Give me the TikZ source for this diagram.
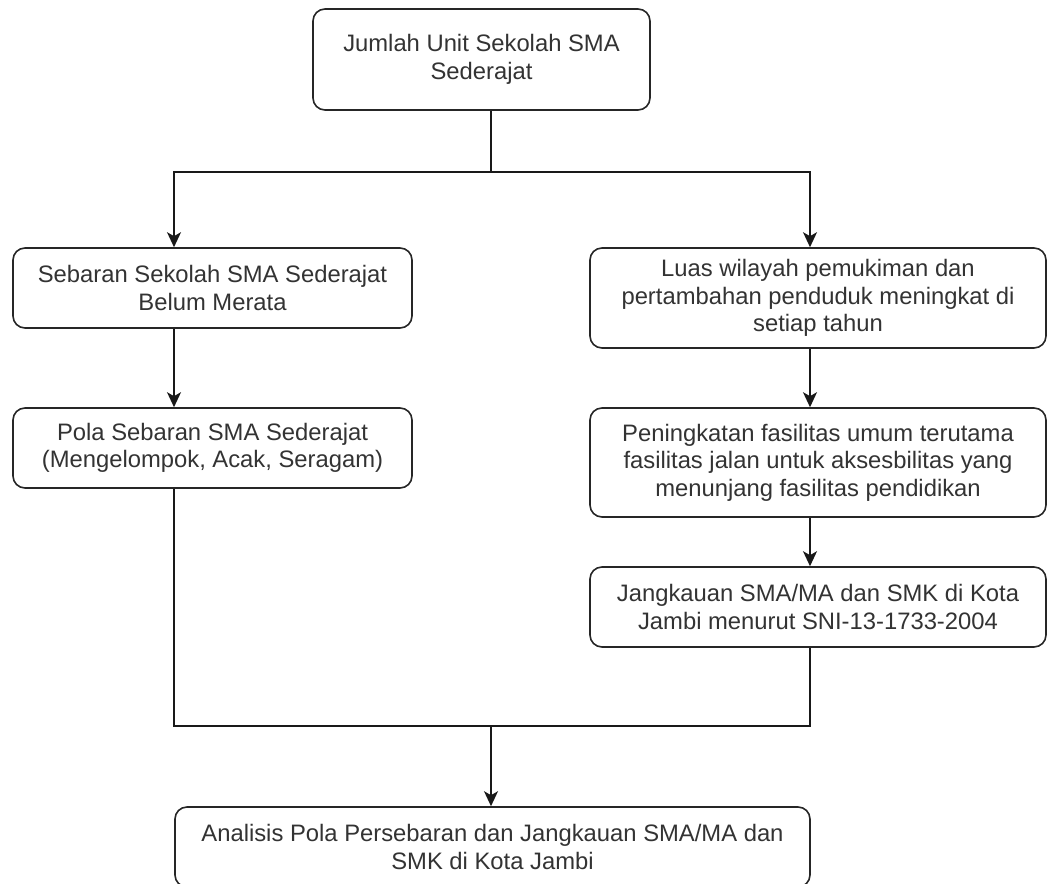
\documentclass[tikz,border=0pt]{standalone}
\usepackage{fontspec}
\setmainfont{Liberation Sans}
\usetikzlibrary{arrows.meta,calc}
\tikzset{
	box/.style={
			draw=black!85, line width=0.8pt, rounded corners=6pt, fill=white,
			align=center, inner sep=0pt, text=black!80,
			font=\fontsize{11.9}{13.8}\selectfont
		},
	link/.style={draw=black!90, line width=0.8pt, -{Stealth[length=7.5pt,width=7pt,inset=2pt]}},
	plain/.style={draw=black!90, line width=0.8pt}
}

\begin{document}
\begin{tikzpicture}[x=0.5pt, y=-0.5pt]
	\useasboundingbox (0,0) rectangle (1048,883);
	\node[box, minimum width=168.5pt, minimum height=50.5pt] (jml) at (481.5,59.5) {Jumlah Unit Sekolah SMA\\Sederajat};
	\node[box, minimum width=199.5pt, minimum height=40pt] (sebaran) at (212.5,288) {Sebaran Sekolah SMA Sederajat\\Belum Merata};
	\node[box, minimum width=199.5pt, minimum height=40pt] (pola) at (212.5,448) {Pola Sebaran SMA Sederajat\\(Mengelompok, Acak, Seragam)};
	\node[box, minimum width=228pt, minimum height=50pt] (luas) at (818,298) {Luas wilayah pemukiman dan\\pertambahan penduduk meningkat di\\setiap tahun};
	\node[box, minimum width=228pt, minimum height=54.5pt] (tingkat) at (818,462.5) {Peningkatan fasilitas umum terutama\\fasilitas jalan untuk aksesbilitas yang\\menunjang fasilitas pendidikan};
	\node[box, minimum width=228pt, minimum height=40pt] (jangkau) at (818,607) {Jangkauan SMA/MA dan SMK di Kota\\Jambi menurut SNI-13-1733-2004};
	\node[box, minimum width=317.5pt, minimum height=40pt] (analisis) at (492.5,847) {Analisis Pola Persebaran dan Jangkauan SMA/MA dan\\SMK di Kota Jambi};

	\coordinate (kiri) at (174,0);
	\coordinate (kanan) at (810,0);
	\coordinate (pisah) at (491,172);
	\coordinate (gabung) at (491,726);

	% cabang atas
	\draw[plain] (jml.south -| pisah) -- (pisah);
	\draw[link] (pisah) -| (sebaran.north -| kiri);
	\draw[link] (pisah) -| (luas.north -| kanan);
	% kolom kiri dan kanan
	\draw[link] (sebaran.south -| kiri) -- (pola.north -| kiri);
	\draw[link] (luas.south -| kanan) -- (tingkat.north -| kanan);
	\draw[link] (tingkat.south -| kanan) -- (jangkau.north -| kanan);
	% gabung ke bawah
	\draw[plain] (pola.south -| kiri) |- (gabung);
	\draw[plain] (jangkau.south -| kanan) |- (gabung);
	\draw[link] (gabung) -- (analisis.north -| gabung);
\end{tikzpicture}
\end{document}
